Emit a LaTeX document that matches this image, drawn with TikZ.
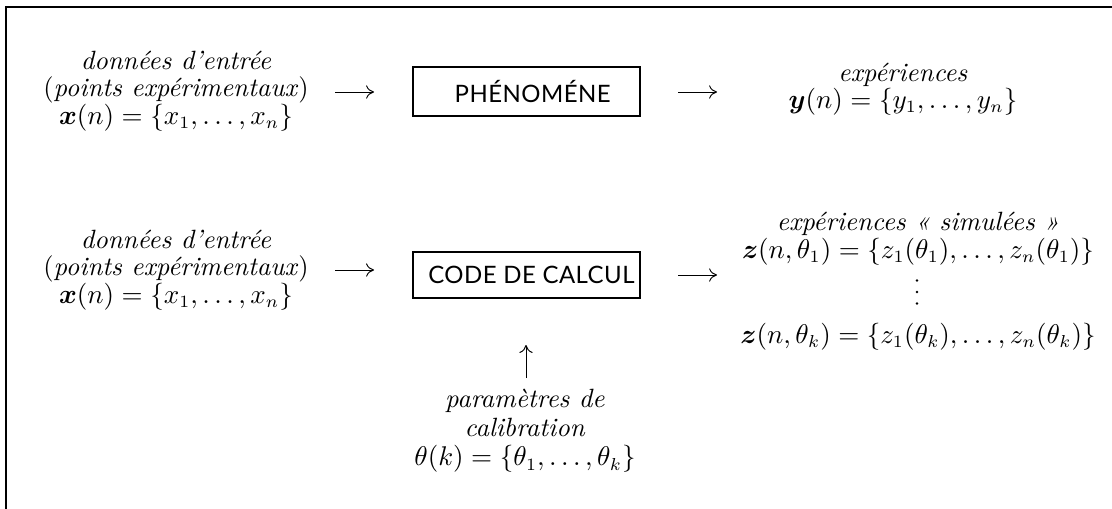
\documentclass[tikz,border=0pt]{standalone}
\usepackage{amsmath}
\usepackage{fontspec}
\usetikzlibrary{arrows.meta}
\newfontfamily\boxfont[LetterSpace=2]{Lato}
\newcommand\tightls{\lineskiplimit-6pt\relax}
\begin{document}
\begin{tikzpicture}[x=0.4047pt,y=-0.4047pt,
  txt/.style={align=center,inner sep=0pt,font=\fontsize{10.7}{11}\selectfont\tightls},
  txtwide/.style={align=center,inner sep=0pt,font=\fontsize{10.7}{11.8}\selectfont\tightls},
  procbox/.style={draw,line width=0.5pt,inner sep=0pt,minimum width=227*0.4047pt,font=\boxfont\fontsize{9.7}{12}\selectfont},
  arr/.style={line width=0.4pt,-{Computer Modern Rightarrow[length=3.2pt,width=5.4pt]}},
  dotmark/.style={fill=black,draw=none},
  frameline/.style={line width=0.7pt}]
\useasboundingbox (0,0) rectangle (1112,509);
\draw[frameline] (6,509) -- (6,7) -- (1112,7);
% top row
\node[txt] (in1) at (176,91) {\textit{données d'entrée}\\(\textit{points expérimentaux})\\$\boldsymbol{x}(n)=\{x_1,\ldots,x_n\}$};
\node[procbox,minimum height=49*0.4047pt] (phen) at (526.5,91.5) {\hspace*{5pt}PHÉNOMÉNE};
\node[txt] (out1) at (903,89) {\textit{expériences}\\$\boldsymbol{y}(n)=\{y_1,\ldots,y_n\}$};
\coordinate (a1s) at (335,92);
\coordinate (a1e) at (374,92);
\coordinate (a2s) at (678,92);
\coordinate (a2e) at (717,92);
\draw[arr] (a1s) -- (a1e);
\draw[arr] (a2s) -- (a2e);
% bottom row
\node[txt] (in2) at (176,270) {\textit{données d'entrée}\\(\textit{points expérimentaux})\\$\boldsymbol{x}(n)=\{x_1,\ldots,x_n\}$};
\node[procbox,minimum height=46*0.4047pt] (code) at (526.5,275) {\hspace*{4pt}CODE DE CALCUL};
\node[txt,anchor=north] (out2) at (918,212) {\textit{expériences « simulées »}\\$\boldsymbol{z}(n,\theta_1)=\{z_1(\theta_1),\ldots,z_n(\theta_1)\}$\\[23.5pt]$\boldsymbol{z}(n,\theta_k)=\{z_1(\theta_k),\ldots,z_n(\theta_k)\}$};
\foreach \yy in {280.5,292,303.5} \fill[dotmark] (917,\yy) circle[radius=0.6pt];
\coordinate (a3s) at (335,270);
\coordinate (a3e) at (374,270);
\coordinate (a4s) at (678,275);
\coordinate (a4e) at (717,275);
\draw[arr] (a3s) -- (a3e);
\draw[arr] (a4s) -- (a4e);
% calibration parameters
\node[txtwide] (par) at (525,431) {\textit{paramètres de}\\\textit{calibration}\\$\theta(k)=\{\theta_1,\ldots,\theta_k\}$};
\coordinate (ups) at (526,378);
\coordinate (upe) at (526,345);
\draw[arr] (ups) -- (upe);
\end{tikzpicture}
\end{document}
